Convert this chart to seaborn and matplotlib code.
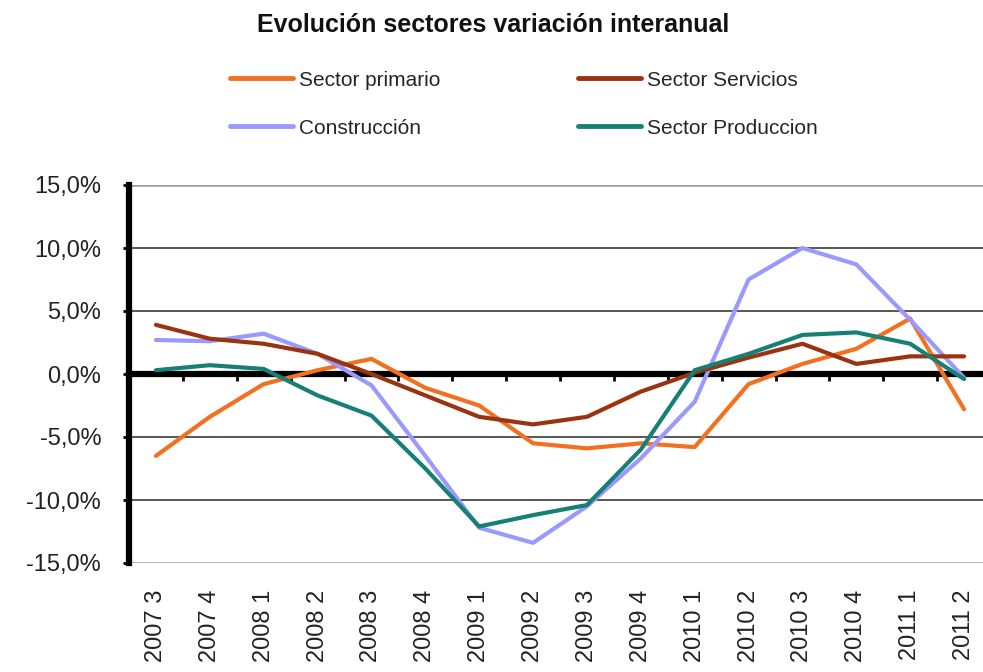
import numpy as np
import pandas as pd
import matplotlib
matplotlib.use("Agg")
import matplotlib.pyplot as plt
from matplotlib.ticker import FuncFormatter, FixedLocator
import seaborn as sns

# Data (variacion interanual, %)
periods = ["2007 3", "2007 4", "2008 1", "2008 2", "2008 3", "2008 4",
           "2009 1", "2009 2", "2009 3", "2009 4", "2010 1", "2010 2",
           "2010 3", "2010 4", "2011 1", "2011 2"]

primario = [-6.5, -3.4, -0.8, 0.3, 1.2, -1.1, -2.5, -5.5,
            -5.9, -5.5, -5.8, -0.8, 0.8, 2.0, 4.4, -2.8]
servicios = [3.9, 2.8, 2.4, 1.6, 0.0, -1.7, -3.4, -4.0,
             -3.4, -1.4, 0.1, 1.3, 2.4, 0.8, 1.4, 1.4]
construccion = [2.7, 2.6, 3.2, 1.6, -0.9, -6.5, -12.2, -13.4,
                -10.5, -6.7, -2.2, 7.5, 10.0, 8.7, 4.3, -0.3]
produccion = [0.3, 0.7, 0.4, -1.7, -3.3, -7.5, -12.1, -11.2,
              -10.4, -6.0, 0.3, 1.6, 3.1, 3.3, 2.4, -0.4]

series_names = ["Sector primario", "Construcción",
                "Sector Servicios", "Sector Produccion"]
colors = ["#F37021", "#9999FF", "#993310", "#168075"]

# ---------------------
# Long-form table
# ---------------------

df = pd.DataFrame({
    "idx": list(range(len(periods))) * 4,
    "valor": primario + construccion + servicios + produccion,
    "serie": np.repeat(series_names, len(periods)),
})

sns.set_style("white")
plt.rcParams["font.family"] = ["Liberation Sans", "DejaVu Sans"]

fig = plt.figure(figsize=(9.83, 6.72), dpi=100)
ax = fig.add_axes([129 / 983, 109 / 672, 862 / 983, 378 / 672])

# gridlines
for v in [-10, -5, 5, 10]:
    ax.axhline(v, color="#3a3a3a", lw=1.2, zorder=0)
for v in [-15, 15]:
    ax.axhline(v, color="#9a9a9a", lw=1.8, zorder=0)

sns.lineplot(
    data=df, x="idx", y="valor", hue="serie",
    hue_order=series_names, palette=colors,
    lw=3.0, ax=ax, legend=False, zorder=3
)

ax.set_xlim(-0.5, len(periods) - 0.5)
ax.set_ylim(-15, 15)
ax.set_xlabel("")
ax.set_ylabel("")

# y axis
ax.set_yticks(range(-15, 16, 5))
ax.yaxis.set_major_formatter(
    FuncFormatter(lambda v, p: f"{v:.1f}%".replace(".", ","))
)
ax.tick_params(axis="y", direction="out", length=4, width=2,
               color="black", labelsize=17, pad=16, left=True)
for t in ax.get_yticklabels():
    t.set_color("#222222")

# spines
for s in ["top", "right"]:
    ax.spines[s].set_visible(False)
ax.spines["left"].set_linewidth(4.5)
ax.spines["left"].set_color("black")
ax.spines["bottom"].set_position(("data", 0))
ax.spines["bottom"].set_linewidth(4.5)
ax.spines["bottom"].set_color("black")
ax.spines["bottom"].set_zorder(2)

# category boundary ticks on the zero line
ax.xaxis.set_major_locator(FixedLocator(np.arange(0.5, len(periods) - 0.5, 1)))
ax.tick_params(axis="x", direction="out", length=5, width=2,
               color="black", labelbottom=False, bottom=True)

# category labels at the bottom
sec = ax.secondary_xaxis(0)
sec.set_xticks(range(len(periods)))
sec.set_xticklabels(periods, rotation=90, fontsize=17, color="#222222")
sec.tick_params(length=0, pad=19)
sec.spines["bottom"].set_visible(False)

# title + legend
fig.text(0.502, 0.963, "Evolución sectores variación interanual",
         ha="center", va="center", fontsize=18, fontweight="bold",
         color="#111111")

handles = [plt.Line2D([], [], color=c, lw=3.5) for c in colors]
fig.legend(handles, series_names, ncol=2, frameon=False,
           loc="center", bbox_to_anchor=(0.533, 0.845),
           fontsize=15, handlelength=3.0, handletextpad=0.3,
           columnspacing=6.6, labelspacing=1.4)

plt.savefig("out.png", dpi=100)
